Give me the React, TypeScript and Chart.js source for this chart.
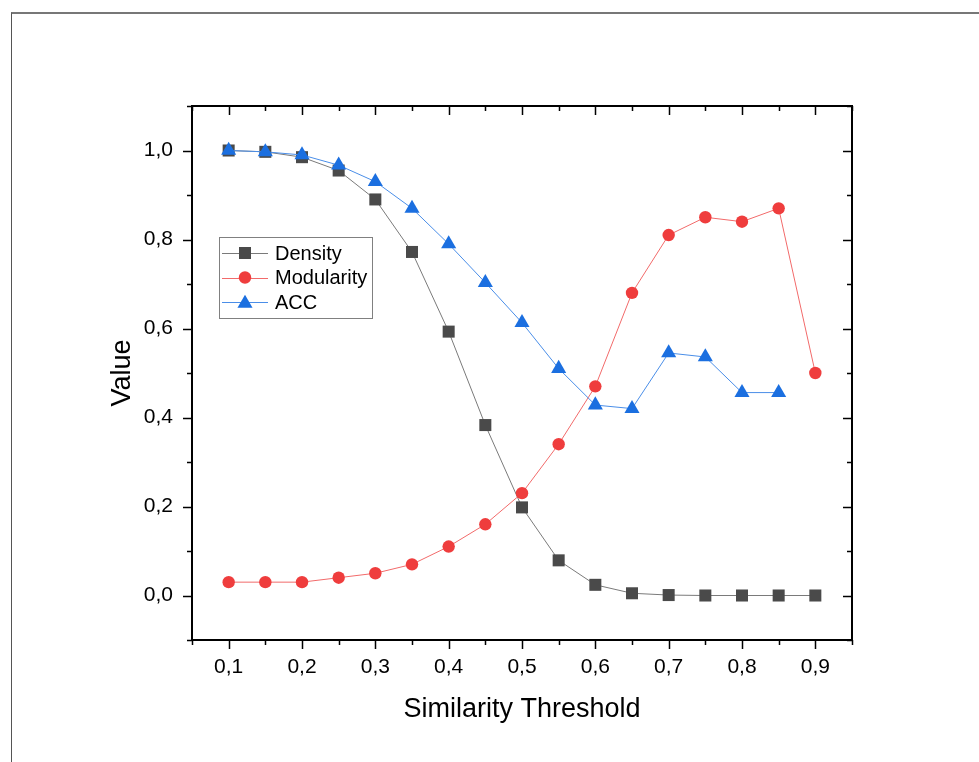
import React, { useEffect, useRef } from "react";
import { Chart, registerables } from "chart.js";

Chart.register(...registerables);

const thresholds = [0.1, 0.15, 0.2, 0.25, 0.3, 0.35, 0.4, 0.45, 0.5, 0.55, 0.6, 0.65, 0.7, 0.75, 0.8, 0.85, 0.9];
const density = [1.0, 0.997, 0.985, 0.955, 0.89, 0.772, 0.593, 0.383, 0.198, 0.079, 0.024, 0.005, 0.001, 0.0, 0.0, 0.0, 0.0];
const modularity = [0.03, 0.03, 0.03, 0.04, 0.05, 0.07, 0.11, 0.16, 0.23, 0.34, 0.47, 0.68, 0.81, 0.85, 0.84, 0.87, 0.5];
const acc = [1.0, 0.997, 0.99, 0.967, 0.93, 0.87, 0.79, 0.703, 0.613, 0.51, 0.428, 0.42, 0.545, 0.536, 0.456, 0.456];

const xMajorTicks = [0.1, 0.2, 0.3, 0.4, 0.5, 0.6, 0.7, 0.8, 0.9];
const xMinorTicks = [0.05, 0.15, 0.25, 0.35, 0.45, 0.55, 0.65, 0.75, 0.85, 0.95];
const yMajorTicks = [0.0, 0.2, 0.4, 0.6, 0.8, 1.0];
const yMinorTicks = [-0.1, 0.1, 0.3, 0.5, 0.7, 0.9, 1.1];

const seriesNames = ["Density", "Modularity", "ACC"];
const xTitle = "Similarity Threshold";
const yTitle = "Value";

const FONT = "'Liberation Sans', Arial, sans-serif";

const COLORS = {
  density: { marker: "#4a4a4a", line: "#7a7a7a" },
  modularity: { marker: "#ef3d3d", line: "#f26a6a" },
  acc: { marker: "#1b6fe0", line: "#4a8ee8" },
};

const fmt = (v: number) => v.toFixed(1).replace(".", ",");

function toXY(vals: number[]) {
  return vals.map((y, i) => ({ x: thresholds[i], y }));
}

function drawMarker(ctx: CanvasRenderingContext2D, style: string, x: number, y: number, r: number, color: string) {
  ctx.save();
  ctx.fillStyle = color;
  ctx.beginPath();
  if (style === "rect") {
    const s = r * Math.SQRT2 / 2;
    ctx.rect(x - s, y - s, 2 * s, 2 * s);
  } else if (style === "circle") {
    ctx.arc(x, y, r, 0, Math.PI * 2);
  } else {
    ctx.moveTo(x, y - r);
    ctx.lineTo(x + r * Math.sin(Math.PI * 2 / 3), y + r * 0.5);
    ctx.lineTo(x - r * Math.sin(Math.PI * 2 / 3), y + r * 0.5);
    ctx.closePath();
  }
  ctx.fill();
  ctx.restore();
}

const framePlugin = {
  id: "originFrame",
  afterDraw(chart: any) {
    const ctx: CanvasRenderingContext2D = chart.ctx;
    const { left, right, top, bottom } = chart.chartArea;
    const xs = chart.scales.x;
    const ys = chart.scales.y;
    ctx.save();
    ctx.strokeStyle = "#000";
    ctx.lineWidth = 2;
    ctx.strokeRect(left, top, right - left, bottom - top);
    ctx.lineWidth = 1.5;
    const major = 9;
    const minor = 5;
    ctx.beginPath();
    xMajorTicks.forEach((v) => {
      const px = Math.round(xs.getPixelForValue(v)) + 0.5;
      ctx.moveTo(px, bottom);
      ctx.lineTo(px, bottom + major);
      ctx.moveTo(px, top);
      ctx.lineTo(px, top + major);
    });
    xMinorTicks.forEach((v) => {
      const px = Math.round(xs.getPixelForValue(v)) + 0.5;
      ctx.moveTo(px, bottom);
      ctx.lineTo(px, bottom + minor);
      ctx.moveTo(px, top);
      ctx.lineTo(px, top + minor);
    });
    yMajorTicks.forEach((v) => {
      const py = Math.round(ys.getPixelForValue(v)) + 0.5;
      ctx.moveTo(left, py);
      ctx.lineTo(left - major, py);
      ctx.moveTo(right, py);
      ctx.lineTo(right - major, py);
    });
    yMinorTicks.forEach((v) => {
      const py = Math.round(ys.getPixelForValue(v)) + 0.5;
      ctx.moveTo(left, py);
      ctx.lineTo(left - minor, py);
      ctx.moveTo(right, py);
      ctx.lineTo(right - minor, py);
    });
    ctx.stroke();

    // axis titles
    ctx.fillStyle = "#000";
    ctx.font = `27px ${FONT}`;
    ctx.textAlign = "center";
    ctx.textBaseline = "middle";
    ctx.fillText(xTitle, (left + right) / 2, bottom + 70);
    ctx.save();
    ctx.translate(left - 69, (top + bottom) / 2);
    ctx.rotate(-Math.PI / 2);
    ctx.fillText(yTitle, 0, 0);
    ctx.restore();

    // legend
    const lx = left + 27;
    const ly = top + 131;
    const lw = 153;
    const lh = 81;
    ctx.fillStyle = "#fff";
    ctx.fillRect(lx, ly, lw, lh);
    ctx.strokeStyle = "#808080";
    ctx.lineWidth = 1;
    ctx.strokeRect(lx + 0.5, ly + 0.5, lw, lh);
    const items = [
      { name: seriesNames[0], style: "rect", r: 8.5, c: COLORS.density },
      { name: seriesNames[1], style: "circle", r: 6.2, c: COLORS.modularity },
      { name: seriesNames[2], style: "triangle", r: 8.7, c: COLORS.acc },
    ];
    items.forEach((it, i) => {
      const cy = ly + 16 + i * 24.5;
      ctx.strokeStyle = it.c.line;
      ctx.lineWidth = 1;
      ctx.beginPath();
      ctx.moveTo(lx + 3, Math.round(cy) + 0.5);
      ctx.lineTo(lx + 49, Math.round(cy) + 0.5);
      ctx.stroke();
      drawMarker(ctx, it.style, lx + 26, cy + (it.style === "triangle" ? 1.5 : 0), it.r, it.c.marker);
      ctx.fillStyle = "#000";
      ctx.font = `20px ${FONT}`;
      ctx.textAlign = "left";
      ctx.textBaseline = "middle";
      ctx.fillText(it.name, lx + 56, cy + 1);
    });
    ctx.restore();
  },
};

export default function App() {
  const canvasRef = useRef<HTMLCanvasElement | null>(null);

  useEffect(() => {
    if (!canvasRef.current) return;
    const chart = new Chart(canvasRef.current, {
      type: "line",
      data: {
        datasets: [
          {
            label: seriesNames[0],
            data: toXY(density),
            borderColor: COLORS.density.line,
            backgroundColor: COLORS.density.marker,
            pointBackgroundColor: COLORS.density.marker,
            pointBorderWidth: 0,
            pointStyle: "rect",
            pointRadius: 8.5,
            borderWidth: 1,
            order: 3,
          },
          {
            label: seriesNames[1],
            data: toXY(modularity),
            borderColor: COLORS.modularity.line,
            backgroundColor: COLORS.modularity.marker,
            pointBackgroundColor: COLORS.modularity.marker,
            pointBorderWidth: 0,
            pointStyle: "circle",
            pointRadius: 6.2,
            borderWidth: 1,
            order: 2,
          },
          {
            label: seriesNames[2],
            data: toXY(acc),
            borderColor: COLORS.acc.line,
            backgroundColor: COLORS.acc.marker,
            pointBackgroundColor: COLORS.acc.marker,
            pointBorderWidth: 0,
            pointStyle: "triangle",
            pointRadius: 8.7,
            borderWidth: 1,
            order: 1,
          },
        ],
      },
      options: {
        responsive: false,
        animation: false,
        layout: { padding: { left: 0, top: 106, right: 127, bottom: 0 } },
        plugins: { legend: { display: false }, tooltip: { enabled: false } },
        scales: {
          x: {
            type: "linear",
            min: 0.05,
            max: 0.95,
            afterBuildTicks: (scale: any) => {
              scale.ticks = xMajorTicks.map((v) => ({ value: v }));
            },
            afterFit: (scale: any) => {
              scale.height = 122;
            },
            grid: { display: true, drawOnChartArea: false, drawTicks: false, color: "transparent" },
            border: { display: false },
            ticks: {
              padding: 15,
              color: "#000",
              font: { family: FONT, size: 21 },
              maxRotation: 0,
              autoSkip: false,
              callback: (v: any) => fmt(Number(v)),
            },
          },
          y: {
            type: "linear",
            min: -0.1,
            max: 1.1,
            afterBuildTicks: (scale: any) => {
              scale.ticks = yMajorTicks.map((v) => ({ value: v }));
            },
            afterFit: (scale: any) => {
              scale.width = 192;
            },
            grid: { display: true, drawOnChartArea: false, drawTicks: false, color: "transparent" },
            border: { display: false },
            ticks: {
              padding: 19,
              color: "#000",
              font: { family: FONT, size: 21 },
              autoSkip: false,
              callback: (v: any) => fmt(Number(v)),
            },
          },
        },
      },
      plugins: [framePlugin],
    } as any);
    return () => chart.destroy();
  }, []);

  return (
    <div style={{ position: "absolute", left: 0, top: 0, width: 979, height: 762, background: "#fff", overflow: "hidden" }}>
      <div
        style={{
          position: "absolute",
          left: 11,
          top: 12,
          width: 968,
          height: 750,
          borderTop: "2px solid #777",
          borderLeft: "1px solid #555",
          boxSizing: "border-box",
        }}
      />
      <canvas ref={canvasRef} width={979} height={762} style={{ position: "absolute", left: 0, top: 0 }} />
    </div>
  );
}
